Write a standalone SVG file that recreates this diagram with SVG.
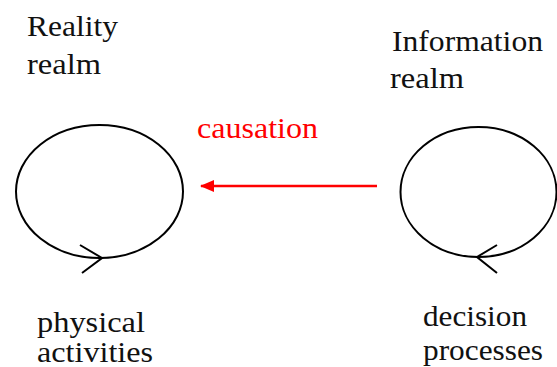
<svg xmlns="http://www.w3.org/2000/svg" width="557" height="367" viewBox="0 0 557 367">
<style>
.loop{fill:none;stroke:#000;stroke-width:2}
</style>
<defs>
<marker id="ah" markerWidth="14" markerHeight="14" refX="13" refY="6" orient="auto" markerUnits="userSpaceOnUse">
<path d="M0,0 L14,6 L0,12 Z" fill="#f00"/>
</marker>
</defs>
<rect width="557" height="367" fill="#fff"/>
<g id="reality">
<text x="27" y="36" style="font-family:'Liberation Serif',serif;font-size:30px;fill:#111" textLength="91" lengthAdjust="spacingAndGlyphs">Reality</text>
<text x="27" y="74" style="font-family:'Liberation Serif',serif;font-size:30px;fill:#111" textLength="74" lengthAdjust="spacingAndGlyphs">realm</text>
<ellipse class="loop" cx="99.5" cy="191.5" rx="83.5" ry="66.5"/>
<polyline class="loop" points="80,245 102,258 82,273"/>
<text x="37" y="332" style="font-family:'Liberation Serif',serif;font-size:30px;fill:#111" textLength="108" lengthAdjust="spacingAndGlyphs">physical</text>
<text x="37" y="362" style="font-family:'Liberation Serif',serif;font-size:30px;fill:#111" textLength="116" lengthAdjust="spacingAndGlyphs">activities</text>
</g>
<g id="information">
<text x="392" y="51" style="font-family:'Liberation Serif',serif;font-size:30px;fill:#111" textLength="151" lengthAdjust="spacingAndGlyphs">Information</text>
<text x="390" y="88" style="font-family:'Liberation Serif',serif;font-size:30px;fill:#111" textLength="74" lengthAdjust="spacingAndGlyphs">realm</text>
<ellipse class="loop" cx="478.5" cy="192" rx="78" ry="65"/>
<polyline class="loop" points="497,245 477,257 497,273"/>
<text x="423" y="326" style="font-family:'Liberation Serif',serif;font-size:30px;fill:#111" textLength="104" lengthAdjust="spacingAndGlyphs">decision</text>
<text x="423" y="360" style="font-family:'Liberation Serif',serif;font-size:30px;fill:#111" textLength="120" lengthAdjust="spacingAndGlyphs">processes</text>
</g>
<g id="connectors">
<line x1="377" y1="186" x2="201" y2="186" stroke="#f00" stroke-width="2.5" marker-end="url(#ah)"/>
<text x="197" y="138" style="font-family:'Liberation Serif',serif;font-size:30px;fill:#f00" textLength="121" lengthAdjust="spacingAndGlyphs">causation</text>
</g>
</svg>
